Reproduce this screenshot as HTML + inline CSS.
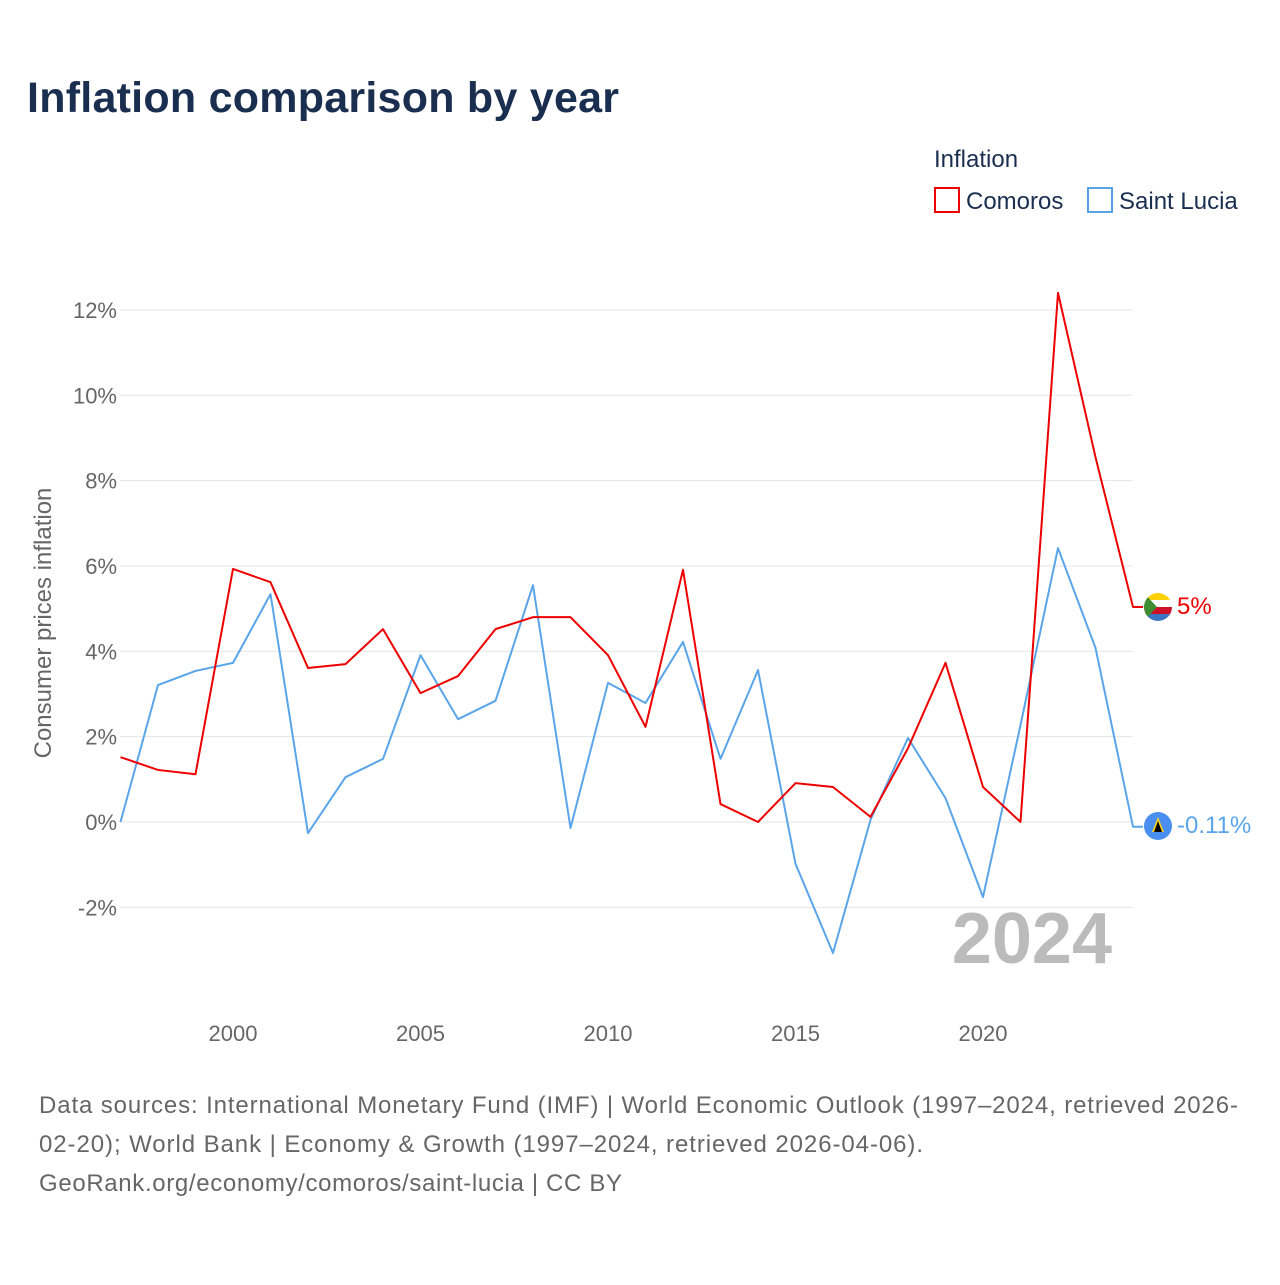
<!DOCTYPE html>
<html><head><meta charset="utf-8"><style>
body{margin:0;background:#fff;font-family:"Liberation Sans",sans-serif}
</style></head><body>
<svg width="1280" height="1280" xmlns="http://www.w3.org/2000/svg">
<defs><clipPath id="fc"><circle cx="1158" cy="607" r="14"/></clipPath></defs>
<text x="27" y="112" font-size="43" font-weight="bold" fill="#1a2e50" textLength="592">Inflation comparison by year</text>
<text x="934" y="167" font-size="24" fill="#1a2e50">Inflation</text>
<g><rect x="935" y="188" width="24" height="24" fill="none" stroke="#ee0000" stroke-width="2"/><text x="966" y="209" font-size="24" fill="#1a2e50">Comoros</text></g>
<g><rect x="1088" y="188" width="24" height="24" fill="none" stroke="#5aa5ea" stroke-width="2"/><text x="1119" y="209" font-size="24" fill="#1a2e50">Saint Lucia</text></g>
<g id="grid"></g><g id="yt"></g><g id="xt"></g><g id="lines"></g>
<text transform="translate(51,623) rotate(-90)" text-anchor="middle" font-size="24" fill="#666">Consumer prices inflation</text>
<text x="1112" y="963" text-anchor="end" font-size="72" font-weight="bold" fill="#bbb">2024</text>
<g clip-path="url(#fc)"><rect x="1144" y="593" width="28" height="7" fill="#ffd100"/><rect x="1144" y="600" width="28" height="7" fill="#fff"/><rect x="1144" y="607" width="28" height="7" fill="#ce1126"/><rect x="1144" y="614" width="28" height="7" fill="#3a75c4"/><polygon points="1144,593 1157,607 1144,621" fill="#3d8e33"/></g>
<text x="1177" y="614" font-size="24" fill="#ee0000">5%</text>
<g><circle cx="1158" cy="826" r="14" fill="#4a8ff0"/><polygon points="1158,817 1164,832 1152,832" fill="#fcd116"/><polygon points="1158,821 1162,832 1154,832" fill="#000"/></g>
<text x="1177" y="833" font-size="24" fill="#5aa5ea">-0.11%</text>
<text font-size="24" fill="#666"><tspan x="39" y="1113" textLength="1199">Data sources: International Monetary Fund (IMF) | World Economic Outlook (1997–2024, retrieved 2026-</tspan><tspan x="39" y="1152" textLength="884">02-20); World Bank | Economy &amp; Growth (1997–2024, retrieved 2026-04-06).</tspan><tspan x="39" y="1191" textLength="583">GeoRank.org/economy/comoros/saint-lucia | CC BY</tspan></text>
</svg>
<script>
const years=[1997,1998,1999,2000,2001,2002,2003,2004,2005,2006,2007,2008,2009,2010,2011,2012,2013,2014,2015,2016,2017,2018,2019,2020,2021,2022,2023,2024];
const comoros=[1.52,1.22,1.12,5.93,5.62,3.61,3.70,4.52,3.02,3.42,4.52,4.80,4.80,3.91,2.23,5.91,0.42,0,0.91,0.82,0.12,1.73,3.73,0.82,0,12.4,8.55,5.04];
const saintLucia=[0,3.21,3.54,3.73,5.34,-0.26,1.05,1.48,3.91,2.41,2.84,5.55,-0.14,3.26,2.79,4.22,1.48,3.56,-0.98,-3.07,0.05,1.97,0.56,-1.76,2.27,6.42,4.08,-0.11];
const yTicks=[-2,0,2,4,6,8,10,12];
const xTicks=[2000,2005,2010,2015,2020];
const NS="http://www.w3.org/2000/svg";
const x=v=>120.5+(v-1997)*(1133-120.5)/27;
const y=v=>822-v*42.67;
function mk(t,a,p){const e=document.createElementNS(NS,t);for(const k in a)e.setAttribute(k,a[k]);p.appendChild(e);return e;}
const G=document.getElementById('grid'),YT=document.getElementById('yt'),XT=document.getElementById('xt'),L=document.getElementById('lines');
yTicks.forEach(v=>{
 const l=mk('line',{x1:120,x2:1133,y1:y(v),y2:y(v),stroke:'#e6e6e6','stroke-width':1},G);
 
 
 const t=mk('text',{x:117,y:y(v)+8,'text-anchor':'end','font-size':22,fill:'#666'},YT);
 t.textContent=v+'%';
 
 
});
xTicks.forEach(v=>{
 const t=mk('text',{x:x(v),y:1041,'text-anchor':'middle','font-size':22,fill:'#666'},XT);
 t.textContent=v;
 
 
});
function line(d,c,n){
 const pts=d.map((v,i)=>x(years[i])+','+y(v));
 pts.push('1143,'+y(d[d.length-1]));
 const p=mk('polyline',{points:pts.join(' '),fill:'none',stroke:c,'stroke-width':2,'stroke-linejoin':'round'},L);
 
 
}
line(saintLucia,'#5aa5ea','saint-lucia-line');
line(comoros,'#ee0000','comoros-line');
</script>
</body></html>
